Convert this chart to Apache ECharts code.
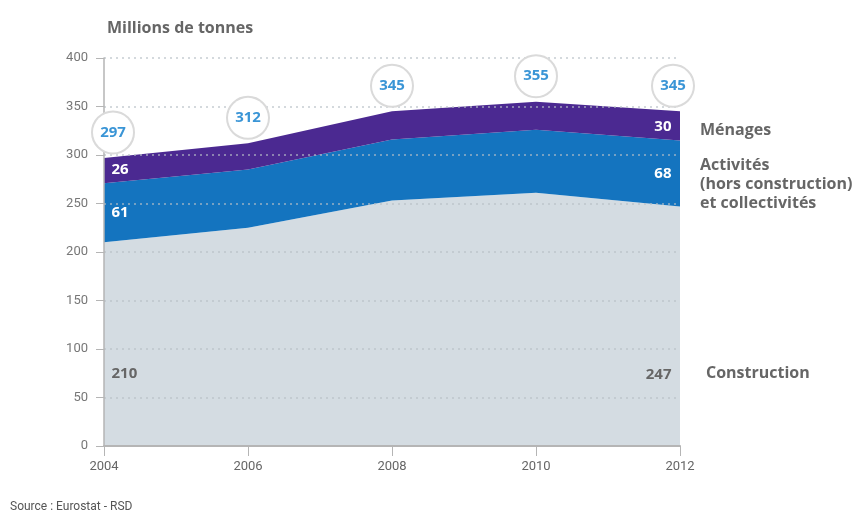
<!DOCTYPE html>
<html>
<head>
<meta charset="utf-8">
<script src="https://cdn.jsdelivr.net/npm/echarts@6/dist/echarts.min.js"></script>
<style>
  html, body { margin: 0; padding: 0; background: #fff; }
  #chart { width: 861px; height: 514px; }
</style>
</head>
<body>
<div id="chart"></div>
<script>
// données (millions de tonnes)
const years = ["2004", "2006", "2008", "2010", "2012"];
const construction = [210, 225, 253, 261, 247];
const activites = [61, 60, 63, 65, 68];
const menages = [26, 27, 29, 29, 30];
const totals = [297, 312, 345, 355, 345];
const yTicks = { min: 0, max: 400, interval: 50 };

const FONT = "'Open Sans', sans-serif";
const TICK_FONT = "'Roboto', sans-serif";

// étiquettes de valeur seulement en 2004 et 2012
function withEndLabels(values, color, dyFirst, dyLast) {
    return values.map((v, i) => {
        if (i === 0) {
            return { value: v, label: { show: true, position: "right", distance: 7, offset: [0, dyFirst], color: color } };
        }
        if (i === values.length - 1) {
            return { value: v, label: { show: true, position: "left", distance: 8, offset: [0, dyLast], color: color } };
        }
        return v;
    });
}

const areaSeries = (name, values, color, labelColor, dyFirst, dyLast) => ({
    name: name,
    type: "line",
    stack: "total",
    data: withEndLabels(values, labelColor, dyFirst, dyLast),
    symbol: "circle",
    symbolSize: 1,
    showSymbol: true,
    lineStyle: { width: 0 },
    areaStyle: { color: color, opacity: 1 },
    itemStyle: { color: "transparent" },
    label: { show: false, fontFamily: FONT, fontWeight: "bold", fontSize: 15 },
    z: 2,
});

const chart = echarts.init(document.getElementById("chart"));
chart.setOption({
    animation: false,
    grid: { left: 104, right: 181, top: 58, bottom: 68 },
    xAxis: {
        type: "category",
        data: years,
        boundaryGap: false,
        z: 3,
        axisLine: { lineStyle: { color: "#b5b5b5", width: 2 } },
        axisTick: { show: true, length: 10, lineStyle: { color: "#b5b5b5" } },
        axisLabel: { color: "#666", fontFamily: TICK_FONT, fontSize: 13, margin: 14 },
        splitLine: { show: false },
    },
    yAxis: {
        type: "value",
        min: yTicks.min,
        max: yTicks.max,
        interval: yTicks.interval,
        z: 3,
        axisLine: { show: true, lineStyle: { color: "#b5b5b5", width: 1.5 } },
        axisTick: { show: true, length: 8, lineStyle: { color: "#b5b5b5" } },
        axisLabel: { color: "#777", fontFamily: TICK_FONT, fontSize: 13, margin: 16 },
        splitLine: { show: true, lineStyle: { color: "#b8bfc6", type: [2, 4], width: 1.5, opacity: 0.8 } },
    },
    series: [
        areaSeries("Construction", construction, "#d4dce2", "#666", 131, 168),
        areaSeries("Activités", activites, "#1474bf", "#fff", 30, 33),
        areaSeries("Ménages", menages, "#4b2991", "#fff", 12, 15),
        {
            name: "Total",
            type: "line",
            data: totals.map((v, i) => {
                const off = i === 0 ? 9 : (i === totals.length - 1 ? -7 : 0);
                return { value: v, label: { offset: [off, 0] } };
            }),
            symbol: "circle",
            symbolSize: 1,
            itemStyle: { color: "transparent" },
            lineStyle: { width: 0, opacity: 0 },
            z: 5,
            label: {
                show: true,
                position: "top",
                distance: 5,
                color: "#3a95d6",
                fontFamily: FONT,
                fontWeight: "bold",
                fontSize: 15,
                backgroundColor: "#fff",
                borderColor: "#dadada",
                borderWidth: 2,
                borderRadius: 21,
                width: 40,
                height: 40,
                lineHeight: 40,
                align: "center",
            },
        },
    ],
    graphic: [
        { type: "text", left: 107, top: 20, style: { text: "Millions de tonnes", fill: "#666", font: "bold 16px " + FONT } },
        { type: "text", left: 700, top: 122, style: { text: "Ménages", fill: "#666", font: "bold 16px " + FONT } },
        { type: "text", left: 700, top: 156, style: { text: "Activités\n(hors construction)\net collectivités", fill: "#666", font: "bold 16px " + FONT, lineHeight: 19 } },
        { type: "text", left: 706, top: 365, style: { text: "Construction", fill: "#666", font: "bold 16px " + FONT } },
        { type: "text", left: 10, top: 501, style: { text: "Source : Eurostat - RSD", fill: "#555", font: "12px " + TICK_FONT } },
    ],
});
</script>
</body>
</html>
